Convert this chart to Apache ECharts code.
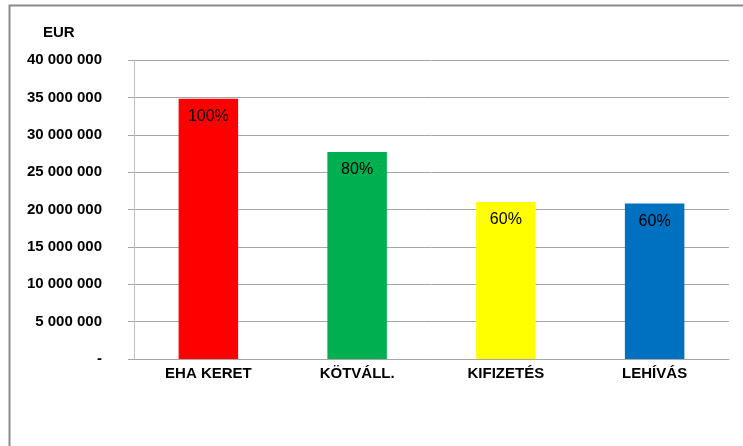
<!doctype html>
<html>
<head>
<meta charset="utf-8">
<title>EUR</title>
<script src="https://cdn.jsdelivr.net/npm/echarts@6/dist/echarts.min.js"></script>
<style>
    html,body{
        margin: 0;
        width: 100%;
        height: 100%;
        background: #fff;
    }
    #bar_chart{
        width: 743px;
        height: 446px;
    }
</style>
</head>
<body>
    <div id="bar_chart"></div>
<script>
    var categories = ['EHA KERET', 'KÖTVÁLL.', 'KIFIZETÉS', 'LEHÍVÁS'];
    var amounts = [34800000, 27700000, 21000000, 20800000];
    var percents = ['100%', '80%', '60%', '60%'];
    var barColors = ['#ff0000', '#00b050', '#ffff00', '#0070c0'];

    function fmt(v){
        if(v === 0) return '-';
        return String(v).replace(/\B(?=(\d{3})+(?!\d))/g, ' ');
    }

    var fontFam = '"Liberation Sans", Arial, sans-serif';

    var bar_option = {
        animation: false,
        textStyle: { fontFamily: fontFam },
        graphic: [{
            type: 'rect',
            shape: { x: 9.5, y: 5.5, width: 800, height: 500 },
            style: { fill: 'none', stroke: '#8c8c8c', lineWidth: 2 },
            silent: true
        }, {
            type: 'text',
            left: 43,
            top: 25,
            style: { text: 'EUR', font: 'bold 15px ' + fontFam, fill: '#000' }
        }],
        grid: {
            left: 134,
            right: 14,
            top: 60,
            bottom: 87
        },
        xAxis: {
            type: 'category',
            data: categories,
            axisLine: { lineStyle: { color: '#a6a6a6', width: 1 } },
            axisTick: { show: false },
            axisLabel: {
                color: '#000',
                fontWeight: 'bold',
                fontSize: 15,
                margin: 7
            }
        },
        yAxis: {
            type: 'value',
            min: 0,
            max: 40000000,
            interval: 5000000,
            axisLine: { show: true, lineStyle: { color: '#c0c0c0' } },
            axisTick: { show: true, inside: false, length: 6, lineStyle: { color: '#a6a6a6' } },
            splitLine: { lineStyle: { color: '#a6a6a6' } },
            axisLabel: {
                color: '#000',
                fontWeight: 'bold',
                fontSize: 15,
                margin: 32,
                formatter: fmt
            }
        },
        series: [{
            type: 'bar',
            barWidth: '40%',
            data: amounts.map(function(v, i){
                return { value: v, itemStyle: { color: barColors[i] } };
            }),
            label: {
                show: true,
                position: 'insideTop',
                distance: 10,
                color: '#000',
                fontSize: 16,
                formatter: function(p){ return percents[p.dataIndex]; }
            }
        }]
    };

    var bar_chart = echarts.init(document.getElementById('bar_chart'));
    bar_chart.setOption(bar_option);
</script>
</body>
</html>
